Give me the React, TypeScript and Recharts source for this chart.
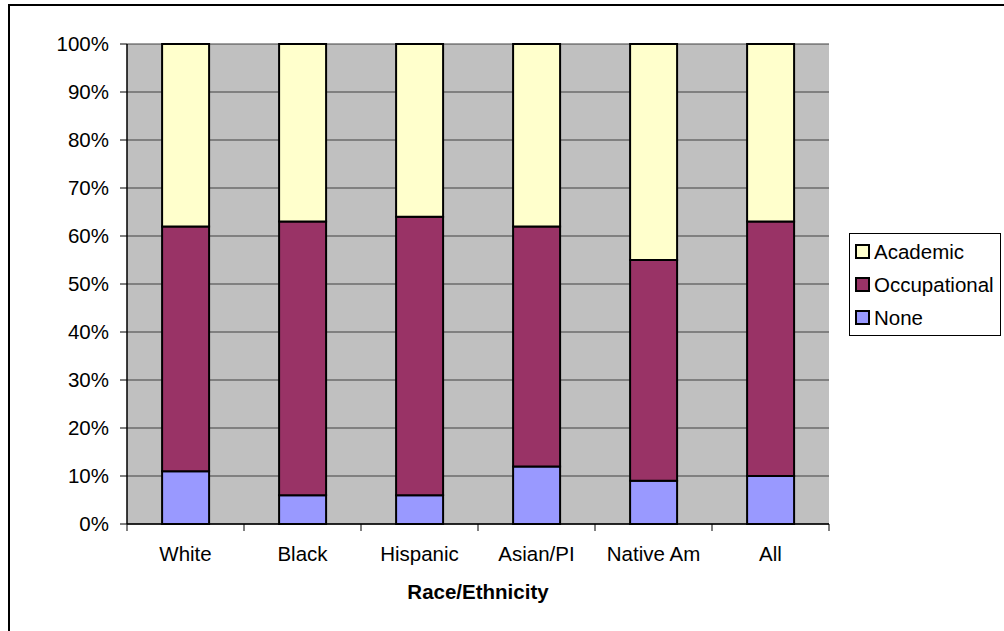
import { BarChart, Bar, XAxis, YAxis, CartesianGrid } from 'recharts';

const categories = ['White', 'Black', 'Hispanic', 'Asian/PI', 'Native Am', 'All'];
const noneValues = [11, 6, 6, 12, 9, 10];
const occupationalValues = [51, 57, 58, 50, 46, 53];
const academicValues = [38, 37, 36, 38, 45, 37];
const yTicks = [0, 10, 20, 30, 40, 50, 60, 70, 80, 90, 100];

const series = [
  { key: 'none', name: 'None', color: '#9999FF' },
  { key: 'occupational', name: 'Occupational', color: '#993366' },
  { key: 'academic', name: 'Academic', color: '#FFFFCC' },
];

const data = categories.map((name, i) => ({
  name,
  none: noneValues[i],
  occupational: occupationalValues[i],
  academic: academicValues[i],
}));

const FONT = '"Liberation Sans", Arial, sans-serif';

// label under each category, with tick marks on the category edges (spreadsheet style)
const CategoryTick = (props: any) => {
  const { x, y, payload, index } = props;
  const half = payload?.offset ?? 0;
  const axisY = y - 22;
  return (
    <g>
      {half > 0 && <line x1={x - half} x2={x - half} y1={axisY} y2={axisY + 7} stroke="#000" />}
      {half > 0 && index === categories.length - 1 && (
        <line x1={x + half} x2={x + half} y1={axisY} y2={axisY + 7} stroke="#000" />
      )}
      <text x={x} y={y} dy="0.71em" textAnchor="middle" fill="#000" fontSize={20.5}>
        {payload.value}
      </text>
    </g>
  );
};

const LegendBox = () => (
  <div
    style={{
      position: 'absolute',
      left: 849,
      top: 233,
      border: '1px solid #000',
      background: '#fff',
      padding: '1px 0 1px 5px',
      fontFamily: FONT,
      fontSize: 20.5,
      color: '#000',
      width: 152,
      boxSizing: 'border-box',
    }}
  >
    {[...series].reverse().map((s) => (
      <div key={s.key} style={{ display: 'flex', alignItems: 'center', height: 33 }}>
        <span
          style={{
            width: 11,
            height: 11,
            background: s.color,
            border: '2px solid #000',
            marginRight: 4,
            display: 'inline-block',
          }}
        />
        <span>{s.name}</span>
      </div>
    ))}
  </div>
);

export default function App() {
  return (
    <div style={{ position: 'absolute', left: 0, top: 0, width: 1004, height: 631, overflow: 'hidden', background: '#fff' }}>
      <div
        style={{
          position: 'absolute',
          left: 8,
          top: 4,
          width: 1010,
          height: 640,
          border: '2px solid #000',
          boxSizing: 'border-box',
        }}
      />
      <BarChart
        width={1004}
        height={631}
        data={data}
        margin={{ top: 44, right: 175, left: 0, bottom: 0 }}
        barCategoryGap="30%"
        style={{ position: 'absolute', left: 0, top: 0, fontFamily: FONT }}
      >
        <CartesianGrid vertical={false} stroke="#404040" fill="#C0C0C0" />
        <XAxis
          dataKey="name"
          height={107}
          axisLine={{ stroke: '#000', strokeWidth: 1.5 }}
          tickLine={false}
          tickSize={7}
          tickMargin={15}
          tick={<CategoryTick />}
          interval={0}
          label={{ value: 'Race/Ethnicity', position: 'insideBottom', offset: 32, fill: '#000', fontSize: 20.5, fontWeight: 'bold' }}
        />
        <YAxis
          width={127}
          domain={[0, 100]}
          ticks={yTicks}
          tickFormatter={(v) => `${v}%`}
          axisLine={{ stroke: '#000', strokeWidth: 1.5 }}
          tickLine={{ stroke: '#000' }}
          tickSize={7}
          tickMargin={11}
          tick={{ fill: '#000', fontSize: 20.5 }}
          interval={0}
        />
        <YAxis
          yAxisId="r"
          orientation="right"
          width={0}
          domain={[0, 100]}
          tick={false}
          tickLine={false}
          axisLine={{ stroke: '#808080', strokeWidth: 2 }}
        />
        {series.map((s) => (
          <Bar
            key={s.key}
            dataKey={s.key}
            name={s.name}
            stackId="a"
            fill={s.color}
            stroke="#000"
            strokeWidth={2}
            isAnimationActive={false}
          />
        ))}
      </BarChart>
      <LegendBox />
    </div>
  );
}
